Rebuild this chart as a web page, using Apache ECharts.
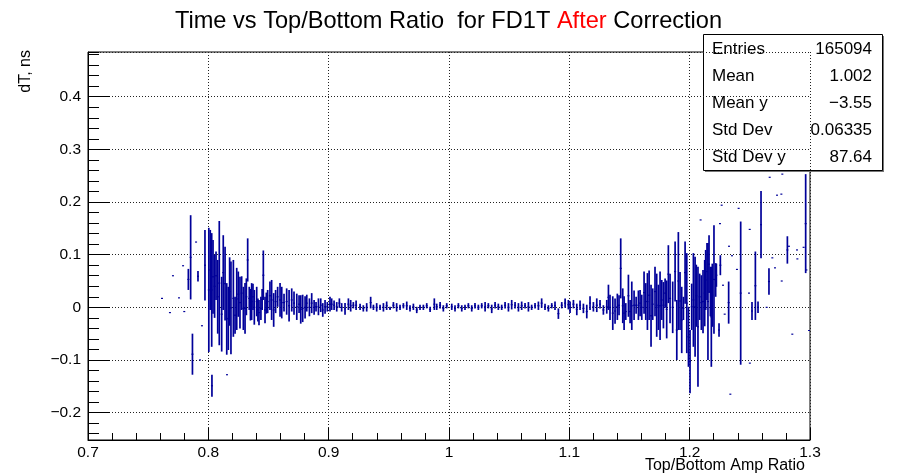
<!DOCTYPE html>
<html><head><meta charset="utf-8">
<script src="https://cdn.jsdelivr.net/npm/echarts@6/dist/echarts.min.js"></script>
<style>html,body{margin:0;padding:0;background:#fff}#c{width:897px;height:476px}</style>
</head><body><div id="c"></div>
<script>
// ---- data (profile bins: centre, mean, error) ----
const binX = [
0.7615,0.7681,0.7706,0.7756,0.7790,0.7800,0.7834,0.7853,0.7868,0.7898,0.7914,0.7931,0.7947,0.7972,
0.8004,0.8016,0.8028,0.8030,0.8039,0.8052,0.8064,0.8078,0.8091,0.8111,0.8124,0.8139,0.8153,0.8155,0.8166,0.8177,
0.8188,0.8208,0.8222,0.8236,0.8249,0.8263,0.8277,0.8291,0.8305,0.8316,0.8327,0.8340,0.8350,0.8360,0.8371,0.8382,
0.8402,0.8412,0.8421,0.8437,0.8447,0.8457,0.8471,0.8482,0.8493,0.8512,0.8526,0.8543,0.8559,0.8576,0.8596,
0.8610,0.8629,0.8651,0.8671,0.8693,0.8712,0.8735,0.8754,0.8768,0.8784,0.8804,0.8818,0.8840,0.8859,0.8879,0.8895,
0.8915,0.8934,0.8951,0.8970,0.8989,0.9011,0.9025,0.9045,0.9067,0.9089,0.9108,0.9136,0.9164,0.9183,0.9205,0.9228,
0.9261,0.9288,0.9316,0.9349,0.9372,0.9399,0.9427,0.9455,0.9482,0.9510,0.9538,0.9565,0.9593,0.9621,0.9649,0.9676,
0.9704,0.9732,0.9759,0.9787,0.9815,0.9843,0.9878,0.9898,0.9926,0.9953,0.9981,1.0023,1.0050,1.0078,1.0106,1.0133,
1.0161,1.0189,1.0216,1.0244,1.0272,1.0300,1.0327,1.0355,1.0383,1.0410,1.0438,1.0466,1.0494,1.0521,1.0549,1.0577,
1.0604,1.0632,1.0660,1.0687,1.0715,1.0743,1.0770,1.0798,1.0826,1.0854,1.0881,1.0909,1.0937,1.0965,1.0992,
1.1006,1.1034,1.1062,1.1089,1.1117,1.1145,1.1172,1.1200,1.1228,1.1255,1.1283,1.1311,1.1325,1.1338,1.1361,1.1380,
1.1399,1.1413,1.1427,1.1444,1.1455,1.1469,1.1491,1.1505,1.1519,1.1538,1.1555,1.1574,1.1588,1.1602,1.1621,1.1635,
1.1649,1.1663,1.1679,1.1693,1.1712,1.1726,1.1740,1.1754,1.1768,1.1782,1.1796,1.1809,1.1823,1.1837,1.1859,1.1879,
1.1893,1.1906,1.1920,1.1934,1.1948,1.1962,1.1976,1.1990,1.2003,1.2017,1.2031,1.2045,
1.2055,1.2069,1.2083,1.2091,1.2097,1.2111,1.2125,1.2133,1.2144,1.2152,1.2161,1.2172,1.2180,1.2188,1.2202,1.2216,
1.2222,1.2244,1.2252,1.2255,1.2266,1.2277,1.2291,1.2324,1.2327,1.2338,1.2352,1.2393,1.2407,1.2424,1.2493,1.2499,
1.2500,1.2518,1.2546,1.2568,1.2593,1.2640,1.2659,1.2665,1.2687,1.2709,1.2726,1.2762,1.2765,1.2770,1.2812,1.2825,
1.2853,1.2892,1.2895,1.2947,1.2964,1.2970,1.2992
];
const binMean = [
0.017,-0.010,0.060,0.018,0.079,-0.008,0.053,0.095,-0.089,0.124,0.059,-0.100,-0.035,0.080,
0.033,0.071,0.033,-0.149,0.058,0.040,0.060,0.020,0.046,-0.013,0.066,0.045,-0.022,-0.128,-0.021,0.030,
-0.001,0.017,-0.015,0.016,0.025,0.009,0.027,-0.002,-0.002,0.020,0.090,0.017,0.005,0.011,0.020,0.000,
0.011,-0.005,-0.010,-0.002,0.015,0.061,-0.005,0.008,0.011,0.022,0.014,-0.005,0.011,0.020,0.014,
0.009,0.009,0.011,0.003,0.014,0.008,0.001,0.006,-0.004,-0.002,0.000,0.008,0.000,0.008,0.000,0.001,
0.001,0.004,-0.005,0.001,0.001,0.006,0.006,0.004,0.001,0.008,0.000,-0.003,0.006,0.003,0.004,0.004,
0.001,-0.002,0.000,0.009,0.000,0.000,0.000,0.000,0.003,-0.002,0.004,0.000,0.000,0.003,0.003,-0.002,
0.001,-0.005,0.000,0.000,0.003,-0.004,0.006,0.001,0.004,-0.002,0.003,0.001,-0.002,0.003,-0.002,0.000,
0.003,-0.002,0.003,0.000,0.003,0.001,0.003,-0.003,0.004,0.001,0.000,0.004,0.000,0.005,0.004,0.000,
0.003,0.003,0.001,0.000,0.003,0.003,0.008,0.001,-0.002,0.003,0.003,-0.012,0.004,0.008,0.005,
0.000,0.006,-0.004,0.004,-0.002,-0.008,0.008,0.001,0.004,0.006,-0.005,0.001,0.019,0.000,-0.011,-0.007,
0.001,0.004,0.074,0.003,-0.011,-0.008,0.022,-0.008,0.003,0.004,0.004,0.004,0.008,0.000,0.028,0.011,
0.011,0.023,-0.016,0.006,0.030,0.004,0.000,0.003,0.014,0.004,0.027,-0.004,0.063,0.017,0.000,0.068,
-0.043,0.050,0.012,-0.024,-0.002,0.066,0.008,-0.056,-0.103,0.001,0.014,0.001,
0.022,-0.037,0.020,0.166,0.009,0.011,0.027,0.052,0.068,0.011,0.082,0.030,-0.018,0.023,0.053,0.052,
0.061,-0.043,0.159,0.080,0.194,0.042,-0.013,0.009,0.116,-0.165,0.098,0.072,0.188,0.027,0.027,0.148,
-0.106,-0.007,0.041,0.000,0.157,0.000,0.049,0.247,0.094,0.075,0.213,0.215,0.050,0.253,0.109,0.116,
-0.051,0.109,0.092,0.114,0.159,0.071,-0.044
];
const binErr = [
0,0,0,0,0,0,0.020,0.080,0.039,0,0.010,0,0,0.067,
0.118,0.076,0.108,0.021,0.070,0.060,0.046,0.070,0.118,0.071,0.071,0.070,0.068,0,0.060,0.065,
0.088,0.073,0.035,0.059,0.043,0.049,0.032,0.041,0.048,0.035,0.041,0.022,0.030,0.035,0.025,0.033,
0.028,0.022,0.024,0.022,0.020,0.047,0.025,0.020,0.022,0.027,0.038,0.032,0.022,0.019,0.032,
0.030,0.017,0.025,0.030,0.022,0.022,0.025,0.017,0.027,0.026,0.021,0.016,0.017,0.019,0.014,0.009,
0.016,0.013,0.013,0.013,0.009,0.014,0.011,0.009,0.009,0.009,0.008,0.011,0.011,0.011,0.006,0.009,
0.006,0.006,0.008,0.011,0.005,0.008,0.005,0.008,0.008,0.003,0.006,0.008,0.005,0.005,0.008,0.006,
0.006,0.006,0.005,0.005,0.005,0.005,0.011,0.006,0.006,0.006,0.005,0.006,0.006,0.005,0.006,0.005,
0.005,0.006,0.005,0.005,0.005,0.009,0.005,0.008,0.006,0.006,0.005,0.006,0.008,0.009,0.006,0.008,
0.008,0.005,0.009,0.005,0.005,0.008,0.009,0.006,0.006,0.005,0.008,0.010,0.006,0.009,0.009,
0.011,0.008,0.011,0.009,0.009,0.013,0.013,0.009,0.013,0.008,0.009,0.013,0.024,0.024,0.032,0.024,
0.025,0.019,0.057,0.033,0.032,0.016,0.040,0.022,0.046,0.028,0.016,0.028,0.025,0.024,0.040,0.035,
0.054,0.047,0.059,0.030,0.047,0.060,0.043,0.065,0.038,0.044,0.028,0.055,0.055,0.047,0.049,0.057,
0.057,0.093,0.055,0.063,0.022,0.059,0.095,0.057,0.060,0.044,0.089,0.095,
0.059,0.114,0.044,0,0.052,0.060,0.063,0.057,0.054,0.111,0.055,0.047,0.095,0.060,0.103,0.032,
0.022,0.013,0,0.019,0,0,0,0.040,0,0,0,0,0,0.136,0,0,
0,0.017,0.065,0.011,0.064,0,0.025,0,0,0,0,0,0,0,0.026,0,
0,0,0,0,0.094,0,0
];
const titleParts = ['Time vs Top/Bottom Ratio  for FD1T ', 'After', ' Correction'];
const xAxisTitle = 'Top/Bottom Amp Ratio';
const yAxisTitle = 'dT, ns';
const statsLabels = ['Entries', 'Mean', 'Mean y', 'Std Dev', 'Std Dev y'];
const statsValues = ['165094', '1.002', '\u22123.55', '0.06335', '87.64'];
const xRange = [0.7, 1.3];
const yRange = [-0.252, 0.485];

// ---- rendering ----
const FONT = '"Liberation Sans", Arial, Helvetica, sans-serif';
const MARK = '#000099';
const chart = echarts.init(document.getElementById('c'), null, {renderer: 'canvas'});
const data = binX.map((x, i) => [x, binMean[i], binErr[i]]);

function fmt(v) {
  const r = Math.round(v * 1000) / 1000;
  if (r === 0) return '0';
  return (r < 0 ? '\u2212' : '') + String(Math.abs(r));
}

function renderItem(params, api) {
  const x = api.value(0), m = api.value(1), e = api.value(2);
  const c = api.coord([x, m]);
  const children = [];
  if (e > 0) {
    const t = api.coord([x, m + e]);
    const b = api.coord([x, m - e]);
    children.push({type: 'line', shape: {x1: c[0], y1: t[1], x2: c[0], y2: b[1]},
      style: {stroke: MARK, lineWidth: 1.7}});
  }
  children.push({type: 'rect', shape: {x: c[0] - 1, y: c[1] - 0.6, width: 2, height: 1.2},
    style: {fill: MARK}});
  return {type: 'group', children};
}

const gridL = 88, gridT = 52, gridR = 87, gridB = 36;
const boxX = 703, boxY = 34, boxW = 179, boxH = 136, rowH = 27;

const statsChildren = [
  {type: 'rect', shape: {x: boxX + 2, y: boxY + 2, width: boxW, height: boxH}, style: {fill: '#777'}},
  {type: 'rect', shape: {x: boxX + 0.5, y: boxY + 0.5, width: boxW, height: boxH}, style: {fill: '#fff', stroke: '#000', lineWidth: 1}}
];
statsLabels.forEach((lab, i) => {
  statsChildren.push({type: 'text', x: boxX + 9, y: boxY + 15 + i * rowH,
    style: {text: lab, fill: '#000', font: '17px ' + FONT, textAlign: 'left', textVerticalAlign: 'middle'}});
  statsChildren.push({type: 'text', x: boxX + boxW - 10, y: boxY + 15 + i * rowH,
    style: {text: statsValues[i], fill: '#000', font: '17px ' + FONT, textAlign: 'right', textVerticalAlign: 'middle'}});
});

const option = {
  backgroundColor: '#fff',
  animation: false,
  title: {
    text: '{n|' + titleParts[0] + '}{r|' + titleParts[1] + '}{n|' + titleParts[2] + '}',
    left: 'center', top: 4,
    textStyle: {fontWeight: 'normal', rich: {
      n: {fontSize: 23.6, fontFamily: FONT, fontWeight: 'normal', color: '#000'},
      r: {fontSize: 23.6, fontFamily: FONT, fontWeight: 'normal', color: '#ff0000'}
    }}
  },
  grid: {left: gridL, top: gridT, right: gridR, bottom: gridB, show: true,
    borderColor: '#000', borderWidth: 1, backgroundColor: 'transparent', containLabel: false},
  xAxis: {
    type: 'value', min: xRange[0], max: xRange[1], interval: 0.1,
    axisLine: {show: true, onZero: false, lineStyle: {color: '#000', width: 1}},
    axisTick: {show: true, inside: true, length: 12, lineStyle: {color: '#000'}},
    minorTick: {show: true, splitNumber: 5, length: 7, lineStyle: {color: '#000'}},
    axisLabel: {color: '#000', fontSize: 15.5, fontFamily: FONT, margin: 5, formatter: fmt},
    splitLine: {show: true, lineStyle: {color: '#222', type: [1, 2], width: 1}}
  },
  yAxis: [{
    type: 'value', min: yRange[0], max: yRange[1], splitNumber: 7, position: 'left',
    axisLine: {show: true, onZero: false, lineStyle: {color: '#000', width: 1}},
    axisTick: {show: true, inside: true, length: 22, lineStyle: {color: '#000'}},
    axisLabel: {color: '#000', fontSize: 15.5, fontFamily: FONT, margin: 7, formatter: fmt,
      showMinLabel: false, showMaxLabel: false},
    splitLine: {show: true, lineStyle: {color: '#222', type: [1, 2], width: 1}}
  }, {
    type: 'value', min: yRange[0], max: yRange[1], splitNumber: 37, position: 'left', offset: 0,
    axisLine: {show: false},
    axisTick: {show: true, inside: true, length: 11, lineStyle: {color: '#000'}},
    axisLabel: {show: false},
    splitLine: {show: false}
  }],
  series: [{
    type: 'custom', renderItem: renderItem, data: data, clip: true,
    xAxisIndex: 0, yAxisIndex: 0, encode: {x: 0, y: 1}, z: 5
  }],
  graphic: [
    {type: 'text', x: 805, y: 466, z: 10,
      style: {text: xAxisTitle, fill: '#000', font: '16px ' + FONT, textAlign: 'right', textVerticalAlign: 'middle'}},
    {type: 'text', x: 26, y: 50, rotation: Math.PI / 2, z: 10,
      style: {text: yAxisTitle, fill: '#000', font: '16px ' + FONT, textAlign: 'right', textVerticalAlign: 'middle'}},
    {type: 'group', z: 20, children: statsChildren}
  ]
};
chart.setOption(option);
</script>
</body></html>
